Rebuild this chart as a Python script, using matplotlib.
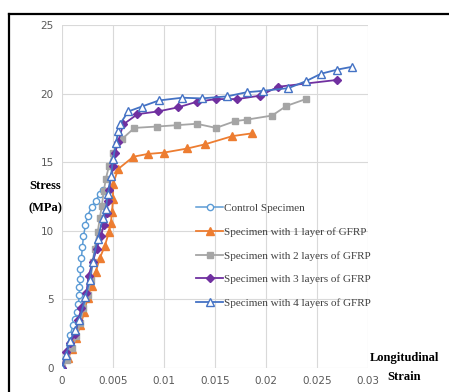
import matplotlib
matplotlib.use("Agg")
import matplotlib.pyplot as plt
from matplotlib.lines import Line2D

# --- Данные (деформация, напряжение МПа) ---
control_x = [0, 0.00078, 0.0011, 0.0013, 0.0015, 0.0016, 0.0017, 0.0017, 0.0018, 0.0018,
             0.0019, 0.002, 0.0021, 0.0023, 0.0025, 0.0029, 0.0033, 0.0037, 0.004]
control_y = [0, 2.4, 3.1, 3.6, 4.1, 4.7, 5.3, 5.9, 6.5, 7.2,
             8.0, 8.8, 9.6, 10.4, 11.1, 11.7, 12.2, 12.7, 13.0]

layer1_x = [0, 0.0006, 0.001, 0.0014, 0.0018, 0.0022, 0.0025, 0.0029, 0.0033, 0.0037,
            0.0042, 0.0046, 0.0048, 0.0049, 0.005, 0.005, 0.0055, 0.007, 0.0084, 0.01,
            0.0123, 0.014, 0.0167, 0.0186]
layer1_y = [0, 0.7, 1.4, 2.2, 3.1, 4.1, 5.1, 6.0, 7.0, 8.0,
            8.9, 9.9, 10.6, 11.4, 12.3, 13.4, 14.5, 15.4, 15.6, 15.7,
            16.0, 16.3, 16.9, 17.1]

layer2_x = [0, 0.0005, 0.001, 0.0014, 0.0018, 0.0021, 0.0025, 0.0028, 0.003, 0.0032,
            0.0035, 0.0037, 0.0039, 0.0041, 0.0043, 0.0046, 0.005, 0.0059, 0.0071, 0.0093,
            0.0113, 0.0132, 0.0151, 0.017, 0.0181, 0.0206, 0.022, 0.0239]
layer2_y = [0, 0.6, 1.45, 2.3, 3.3, 4.35, 5.3, 6.4, 7.7, 8.7,
            9.9, 10.9, 11.8, 12.9, 13.8, 14.7, 15.65, 16.7, 17.5, 17.6,
            17.7, 17.8, 17.5, 18.0, 18.1, 18.4, 19.1, 19.6]

layer3_x = [0, 0.0004, 0.0008, 0.0013, 0.0016, 0.0019, 0.0024, 0.0026, 0.003, 0.0034,
            0.0038, 0.0041, 0.0044, 0.0045, 0.0046, 0.005, 0.0052, 0.0055, 0.006, 0.0074,
            0.0094, 0.0114, 0.0132, 0.0151, 0.0172, 0.0194, 0.0212, 0.027]
layer3_y = [0, 1.2, 1.8, 2.5, 3.5, 4.35, 5.5, 6.7, 7.7, 8.7,
            9.6, 10.4, 11.3, 12.2, 13.0, 14.7, 15.65, 16.5, 17.75, 18.5,
            18.7, 19.0, 19.4, 19.6, 19.6, 19.85, 20.5, 21.0]

layer4_x = [0, 0.0004, 0.0008, 0.0013, 0.0017, 0.0023, 0.0027, 0.003, 0.0035, 0.004,
            0.0043, 0.0045, 0.0048, 0.005, 0.0053, 0.0055, 0.0057, 0.0065, 0.0078, 0.0095,
            0.0118, 0.0137, 0.0162, 0.0181, 0.0197, 0.0222, 0.0239, 0.0254, 0.027, 0.0284]
layer4_y = [0, 0.95, 2.0, 2.75, 3.5, 5.15, 6.4, 7.7, 9.4, 10.9,
            11.6, 12.7, 14.0, 15.2, 16.4, 17.25, 17.8, 18.7, 19.05, 19.5,
            19.7, 19.65, 19.8, 20.1, 20.2, 20.4, 20.9, 21.45, 21.75, 21.95]

labels = ['Control Specimen', 'Specimen with 1 layer of GFRP', 'Specimen with 2 layers of GFRP',
          'Specimen with 3 layers of GFRP', 'Specimen with 4 layers of GFRP']
x_ticks = [0, 0.005, 0.01, 0.015, 0.02, 0.025, 0.03]
x_tick_labels = ['0', '0.005', '0.01', '0.015', '0.02', '0.025', '0.03']
y_ticks = [0, 5, 10, 15, 20, 25]

W, H = 449, 392
fig = plt.figure(figsize=(W / 100, H / 100), dpi=100)
ax = fig.add_axes([62 / W, 1 - 368 / H, (368 - 62) / W, (368 - 25) / H])

# --- Серии ---
ax.plot(control_x, control_y, color='#5B9BD5', lw=1.1, marker='o', ms=4.5,
        mfc='white', mec='#5B9BD5', mew=1.0, label=labels[0])
ax.plot(layer1_x, layer1_y, color='#ED7D31', lw=1.3, marker='^', ms=5.5,
        mfc='#ED7D31', mec='#ED7D31', label=labels[1])
ax.plot(layer2_x, layer2_y, color='#A5A5A5', lw=1.3, marker='s', ms=4.5,
        mfc='#A5A5A5', mec='#A5A5A5', label=labels[2])
ax.plot(layer3_x, layer3_y, color='#7030A0', lw=1.3, marker='D', ms=4.5,
        mfc='#7030A0', mec='#7030A0', label=labels[3])
ax.plot(layer4_x, layer4_y, color='#4472C4', lw=1.3, marker='^', ms=6,
        mfc='white', mec='#4472C4', mew=1.0, label=labels[4])

ax.set_xlim(0, 0.03)
ax.set_ylim(0, 25)
ax.set_xticks(x_ticks)
ax.set_xticklabels(x_tick_labels)
ax.set_yticks(y_ticks)
ax.grid(True, color='#D9D9D9', lw=0.8)
ax.set_axisbelow(True)
for s in ax.spines.values():
    s.set_visible(False)
ax.tick_params(length=0, labelsize=7.5, labelcolor='#595959', pad=6)

# --- Подписи осей ---
fig.text(45 / W, 1 - 186 / H, 'Stress', ha='center', va='center',
         fontsize=9, fontweight='bold', family='Liberation Serif')
fig.text(45 / W, 1 - 208 / H, '(MPa)', ha='center', va='center',
         fontsize=9, fontweight='bold', family='Liberation Serif')
fig.text(404 / W, 1 - 358 / H, 'Longitudinal', ha='center', va='center',
         fontsize=9, fontweight='bold', family='Liberation Serif')
fig.text(404 / W, 1 - 377 / H, 'Strain', ha='center', va='center',
         fontsize=9, fontweight='bold', family='Liberation Serif')

# --- Легенда ---
leg = ax.legend(loc='upper left', bbox_to_anchor=(192 / W, 1 - 199 / H),
                bbox_transform=fig.transFigure, frameon=False, handlelength=2.4,
                handletextpad=0.1, labelspacing=1.25, borderaxespad=0,
                prop={'family': 'Liberation Serif', 'size': 8})
for t in leg.get_texts():
    t.set_color('#404040')

# --- Рамка ---
fig.add_artist(Line2D([9 / W, 9 / W], [0, 1 - 14 / H], color='black', lw=1.6,
                      transform=fig.transFigure))
fig.add_artist(Line2D([9 / W, 1], [1 - 14 / H, 1 - 14 / H], color='black', lw=1.6,
                      transform=fig.transFigure))

fig.savefig('out.png', dpi=100)
